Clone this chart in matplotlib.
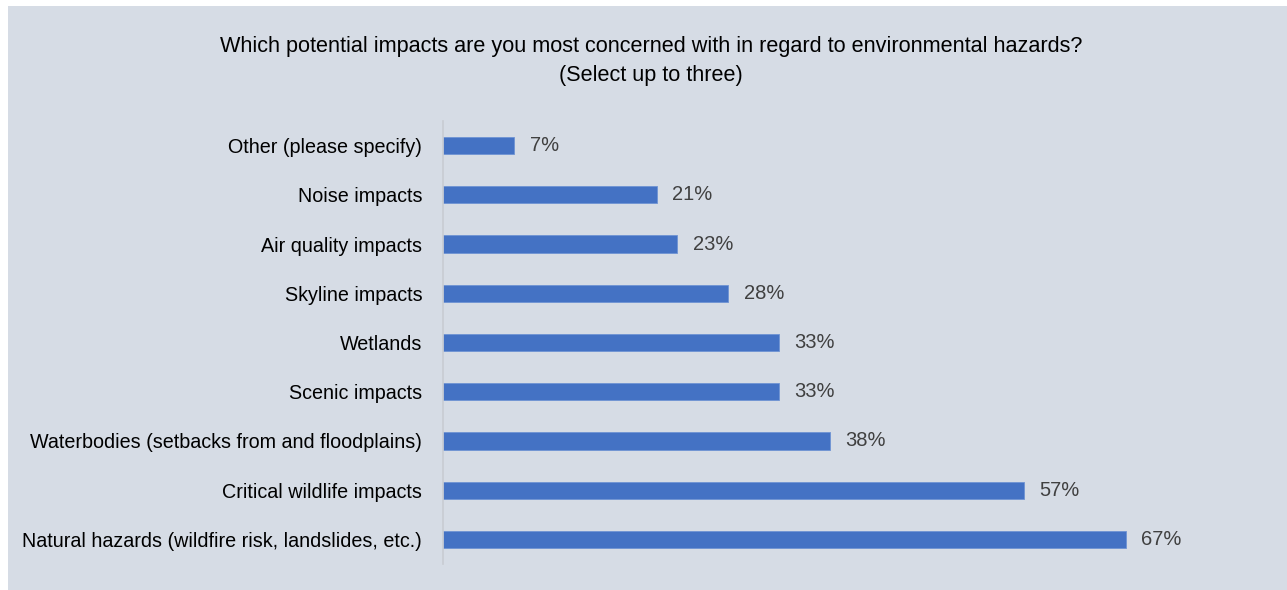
import matplotlib.pyplot as plt
import matplotlib.patches as mpatches

# ── DATA ──────────────────────────────────────────────────────────────────────
categories = [
    "Natural hazards (wildfire risk, landslides, etc.)",
    "Critical wildlife impacts",
    "Waterbodies (setbacks from and floodplains)",
    "Scenic impacts",
    "Wetlands",
    "Skyline impacts",
    "Air quality impacts",
    "Noise impacts",
    "Other (please specify)",
]
percents = [67, 57, 38, 33, 33, 28, 23, 21, 7]
title = ("Which potential impacts are you most concerned with in regard to environmental hazards?\n"
         "(Select up to three)")

# ── STYLE ─────────────────────────────────────────────────────────────────────
BG = "#D6DCE5"
BAR = "#4472C4"
plt.rcParams['font.family'] = ['Liberation Sans', 'DejaVu Sans']

W, H = 1287, 590
fig = plt.figure(figsize=(W / 100, H / 100), dpi=100)
fig.patch.set_facecolor("white")

# light panel behind the chart, with a thin white margin top/left
panel = mpatches.Rectangle((8 / W, 0), 1 - 8 / W, 1 - 6 / H,
                           transform=fig.transFigure, facecolor=BG,
                           edgecolor="none", zorder=-10)
fig.patches.append(panel)

fig.text(651 / W, 1 - 61 / H, title, ha="center", va="center",
         fontsize=15.6, linespacing=1.5, color="black")

# axes box in pixel units
left, right = 443, 1207
top, bottom = 121, 564
ax = fig.add_axes([left / W, 1 - bottom / H, (right - left) / W, (bottom - top) / H])
ax.set_facecolor("none")

y = range(len(categories))
ax.barh(y, percents, height=0.35, color=BAR, edgecolor="#6F93D3", linewidth=0.6)
ax.set_xlim(0, 75)
ax.set_ylim(-0.5, len(categories) - 0.5)

ax.set_yticks(list(y))
ax.set_yticklabels(categories, fontsize=14.2, color="black")
ax.tick_params(axis="y", length=0, pad=15)
ax.set_xticks([])

for s in ["top", "right", "bottom"]:
    ax.spines[s].set_visible(False)
ax.spines["left"].set_color("#C8CCD2")
ax.spines["left"].set_linewidth(1.2)

for i, v in enumerate(percents):
    ax.text(v + 1.5, i, f"{v}%", va="center", ha="left",
            fontsize=14.5, color="#404040")

fig.savefig("out.png", dpi=100, facecolor=fig.get_facecolor())
